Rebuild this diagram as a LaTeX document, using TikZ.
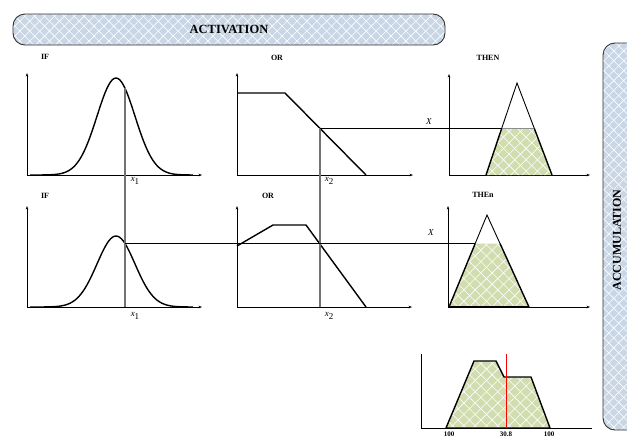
\documentclass[tikz,border=0pt]{standalone}
\usepackage{fontspec}
\setmainfont{Liberation Serif}
\usetikzlibrary{patterns.meta,arrows.meta}
\definecolor{bannerblue}{RGB}{200,214,230}
\definecolor{fillgreen}{RGB}{209,221,175}
\begin{document}
\begin{tikzpicture}[x=1pt,y=-1pt,
  axis/.style={line width=0.7pt},
  tip/.style={-{Stealth[length=3.5pt,width=2.6pt]}},
  curve/.style={line width=1.4pt, line join=round},
  proj/.style={line width=0.8pt},
  vproj/.style={line width=1.3pt, draw=black!55},
  hatch/.style={postaction={pattern={Lines[angle=45,distance=#1,line width=0.6pt]}, pattern color=white},
                postaction={pattern={Lines[angle=-45,distance=#1,line width=0.6pt]}, pattern color=white}},
  banner/.style={fill=bannerblue, hatch=7pt, postaction={draw=black!80, line width=0.9pt}},
  greenarea/.style={fill=fillgreen, hatch=8pt},
  lab/.style={font=\fontsize{8}{9}\selectfont\bfseries, inner sep=0pt},
  xlab/.style={font=\fontsize{9}{10}\selectfont, inner sep=0pt},
  title/.style={font=\fontsize{12.5}{14}\selectfont\bfseries, inner sep=0pt},
  tick/.style={font=\fontsize{7}{8}\selectfont\bfseries, inner sep=0pt, anchor=base}
]
\useasboundingbox (0,0) rectangle (627,437);

% banners
\path[banner, rounded corners=12pt] (13,14) rectangle (445,45);
\node[title] (act) at (229,29.5) {ACTIVATION};
\path[banner, rounded corners=12pt] (603,43) rectangle (660,430);
\node[title, font=\fontsize{12}{14}\selectfont\bfseries, rotate=90] (acc) at (617,240) {ACCUMULATION};

% ---------- Row 1 ----------
\draw[axis, tip] (27,175) -- (27,73);
\draw[axis, tip] (27,175) -- (202,175);
\draw[curve] plot[domain=30:193, samples=90, smooth] (\x, {175-97*exp(-((\x-116)^2)/722)});
\draw[axis, tip] (237,175) -- (237,73);
\draw[axis, tip] (237,175) -- (413,175);
\draw[curve] (237,93) -- (285,93) -- (366,175);
\draw[axis, tip] (449,175) -- (449,74);
\draw[axis, tip] (449,175) -- (590,175);
\path[greenarea] (486,175) -- (501.7,128.4) -- (534.3,128.4) -- (552,175) -- cycle;
\draw[line width=0.9pt] (501.7,128.4) -- (517,83) -- (534.3,128.4);
\draw[black!45, line width=1pt] (501.7,128.4) -- (534.3,128.4);
\draw[curve] (486,175) -- (501.7,128.4);
\draw[curve] (534.3,128.4) -- (552,175);

% ---------- Row 2 ----------
\draw[axis, tip] (27,307) -- (27,206);
\draw[axis, tip] (27,307) -- (202,307);
\draw[curve] plot[domain=30:193, samples=90, smooth] (\x, {307-71*exp(-((\x-116)^2)/722)});
\draw[axis, tip] (237,307) -- (237,206);
\draw[axis, tip] (237,307) -- (412,307);
\draw[curve] (237,246) -- (273,225) -- (306,225) -- (366,307);
\draw[axis, tip] (448,307) -- (448,206);
\draw[axis, tip] (448,307) -- (590,307);
\path[greenarea] (449,307) -- (475.2,243.5) -- (500,243.5) -- (529,307) -- cycle;
\draw[line width=0.9pt] (475.2,243.5) -- (487,215) -- (500,243.5);
\draw[curve] (449,307) -- (475.2,243.5);
\draw[curve] (500,243.5) -- (529,307);
\draw[curve] (449,307) -- (529,307);

% projection lines
\draw[vproj] (125,88.3) -- (125,307);
\draw[vproj] (320,128.4) -- (320,307);
\draw[proj] (320,128.4) -- (501.7,128.4);
\draw[proj] (125,243.5) -- (475.2,243.5);

% ---------- Result ----------
\path[greenarea] (446,428) -- (474,361) -- (496,361) -- (504,377) -- (531,377) -- (550,428) -- cycle;
\draw[curve] (446,428) -- (474,361) -- (496,361) -- (504,377) -- (531,377) -- (550,428) -- cycle;
\draw[axis] (421,354) -- (421,428) -- (592,428);
\draw[red, line width=0.8pt] (506,354) -- (506,428);

% labels
\node[lab] (if1) at (45,57) {IF};
\node[lab] (or1) at (277,58) {OR};
\node[lab] (then1) at (488,58) {THEN};
\node[lab] (if2) at (45,196) {IF};
\node[lab] (or2) at (268,196) {OR};
\node[lab] (then2) at (483,195) {THEn};
\node[xlab] (x1a) at (135,181) {\textit{x}\raisebox{-2.5pt}{1}};
\node[xlab] (x2a) at (329,181) {\textit{x}\raisebox{-2.5pt}{2}};
\node[xlab] (x1b) at (135,316) {\textit{x}\raisebox{-2.5pt}{1}};
\node[xlab] (x2b) at (329,316) {\textit{x}\raisebox{-2.5pt}{2}};
\node[xlab] (X1) at (429,122) {\textit{X}};
\node[xlab] (X2) at (431,233) {\textit{X}};
\node[tick] (l1) at (449,436) {100};
\node[tick] (l2) at (506,436) {30.8};
\node[tick] (l3) at (549,436) {100};
\end{tikzpicture}
\end{document}
